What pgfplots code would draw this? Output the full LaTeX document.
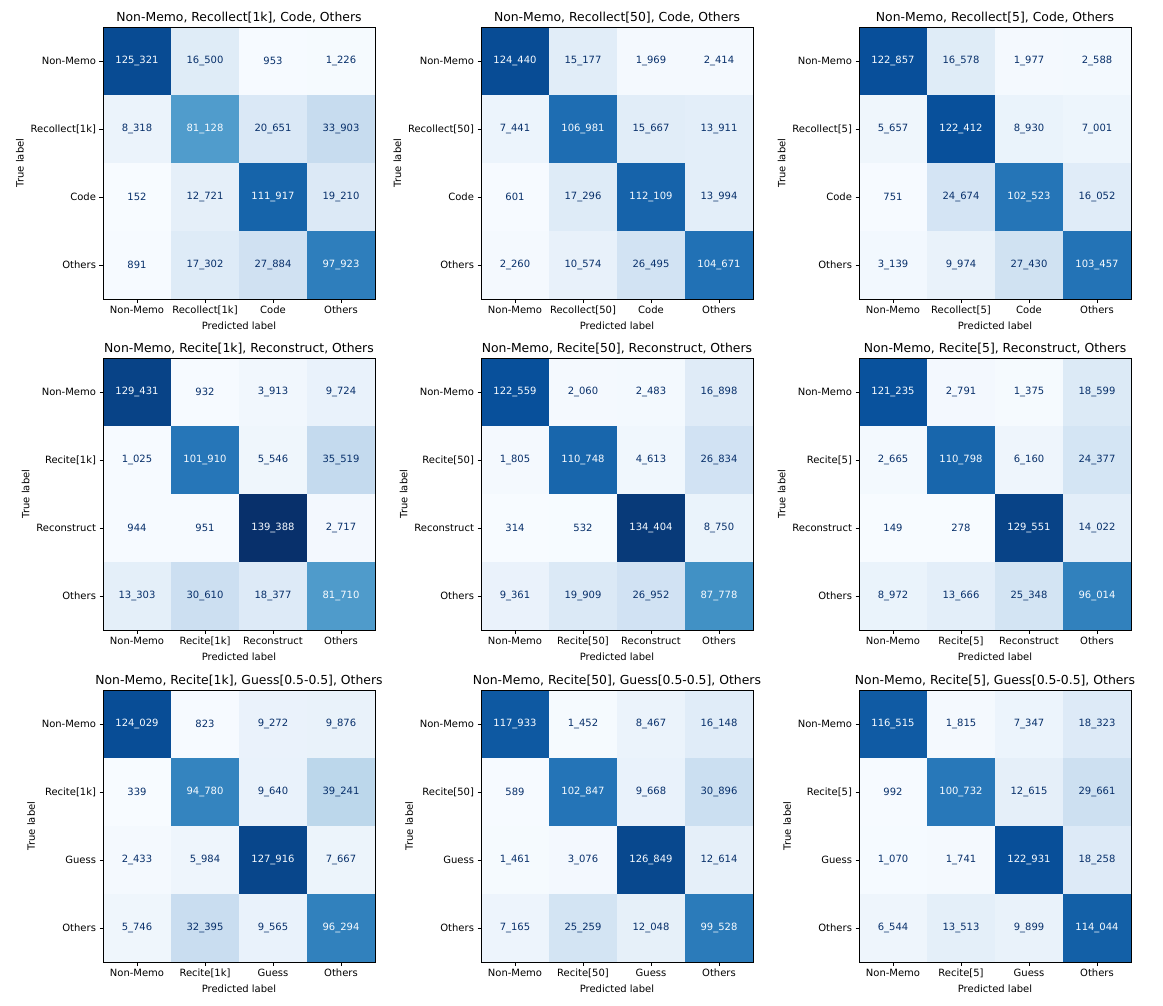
\documentclass[border=0pt]{standalone}
\usepackage{pgfplots}
\pgfplotsset{compat=1.18}
\usepackage{pgfplotstable}
\usepackage{fontspec}
\setmainfont{DejaVu Sans}
\definecolor{cmax}{HTML}{08306B}
\definecolor{cmin}{HTML}{F7FBFF}
\pgfplotsset{colormap={mplblues}{rgb255=(247,251,255) rgb255=(222,235,247) rgb255=(198,219,239) rgb255=(158,202,225) rgb255=(107,174,214) rgb255=(66,146,198) rgb255=(33,113,181) rgb255=(8,81,156) rgb255=(8,48,107)}}

\pgfplotstableread{
x y v t
0 0 125321 1
1 0 16500 0
2 0 953 0
3 0 1226 0
0 1 8318 0
1 1 81128 1
2 1 20651 0
3 1 33903 0
0 2 152 0
1 2 12721 0
2 2 111917 1
3 2 19210 0
0 3 891 0
1 3 17302 0
2 3 27884 0
3 3 97923 1
}\tA
\pgfplotstableread{
x y v t
0 0 124440 1
1 0 15177 0
2 0 1969 0
3 0 2414 0
0 1 7441 0
1 1 106981 1
2 1 15667 0
3 1 13911 0
0 2 601 0
1 2 17296 0
2 2 112109 1
3 2 13994 0
0 3 2260 0
1 3 10574 0
2 3 26495 0
3 3 104671 1
}\tB
\pgfplotstableread{
x y v t
0 0 122857 1
1 0 16578 0
2 0 1977 0
3 0 2588 0
0 1 5657 0
1 1 122412 1
2 1 8930 0
3 1 7001 0
0 2 751 0
1 2 24674 0
2 2 102523 1
3 2 16052 0
0 3 3139 0
1 3 9974 0
2 3 27430 0
3 3 103457 1
}\tC
\pgfplotstableread{
x y v t
0 0 129431 1
1 0 932 0
2 0 3913 0
3 0 9724 0
0 1 1025 0
1 1 101910 1
2 1 5546 0
3 1 35519 0
0 2 944 0
1 2 951 0
2 2 139388 1
3 2 2717 0
0 3 13303 0
1 3 30610 0
2 3 18377 0
3 3 81710 1
}\tD
\pgfplotstableread{
x y v t
0 0 122559 1
1 0 2060 0
2 0 2483 0
3 0 16898 0
0 1 1805 0
1 1 110748 1
2 1 4613 0
3 1 26834 0
0 2 314 0
1 2 532 0
2 2 134404 1
3 2 8750 0
0 3 9361 0
1 3 19909 0
2 3 26952 0
3 3 87778 1
}\tE
\pgfplotstableread{
x y v t
0 0 121235 1
1 0 2791 0
2 0 1375 0
3 0 18599 0
0 1 2665 0
1 1 110798 1
2 1 6160 0
3 1 24377 0
0 2 149 0
1 2 278 0
2 2 129551 1
3 2 14022 0
0 3 8972 0
1 3 13666 0
2 3 25348 0
3 3 96014 1
}\tF
\pgfplotstableread{
x y v t
0 0 124029 1
1 0 823 0
2 0 9272 0
3 0 9876 0
0 1 339 0
1 1 94780 1
2 1 9640 0
3 1 39241 0
0 2 2433 0
1 2 5984 0
2 2 127916 1
3 2 7667 0
0 3 5746 0
1 3 32395 0
2 3 9565 0
3 3 96294 1
}\tG
\pgfplotstableread{
x y v t
0 0 117933 1
1 0 1452 0
2 0 8467 0
3 0 16148 0
0 1 589 0
1 1 102847 1
2 1 9668 0
3 1 30896 0
0 2 1461 0
1 2 3076 0
2 2 126849 1
3 2 12614 0
0 3 7165 0
1 3 25259 0
2 3 12048 0
3 3 99528 1
}\tH
\pgfplotstableread{
x y v t
0 0 116515 1
1 0 1815 0
2 0 7347 0
3 0 18323 0
0 1 992 0
1 1 100732 1
2 1 12615 0
3 1 29661 0
0 2 1070 0
1 2 1741 0
2 2 122931 1
3 2 18258 0
0 3 6544 0
1 3 13513 0
2 3 9899 0
3 3 114044 1
}\tI

\pgfplotsset{
  cmlabels/.style={only marks, mark=*, mark size=0pt, mark options={draw=none,fill=none},
    point meta=explicit, unbounded coords=discard,
    nodes near coords={\pgfmathprintnumber[assume math mode=true,fixed,precision=0,1000 sep={\_}]{\pgfplotspointmeta}},
    every node near coord/.append style={font=\fontsize{10}{12}\selectfont, anchor=center, text=#1}},
}

\newcommand{\cmaxis}[6]{%
\begin{axis}[
  at={(#1pt,-#2pt)}, anchor=north west,
  scale only axis, width=272pt, height=272pt,
  xmin=-0.5, xmax=3.5, ymin=-0.5, ymax=3.5,
  y dir=reverse, enlargelimits=false,
  colormap name=mplblues, point meta min=0, point meta max=139388,
  xtick={0,1,2,3}, ytick={0,1,2,3},
  xticklabels={Non-Memo,{#4},{#5},Others},
  yticklabels={Non-Memo,{#4},{#5},Others},
  tick pos=left, tick align=outside,
  major tick length=3.5pt,
  every tick/.style={black, line width=0.8pt},
  axis line style={black, line width=0.8pt},
  axis on top,
  ticklabel style={font=\fontsize{10}{12}\selectfont},
  label style={font=\fontsize{10}{12}\selectfont},
  title={#3},
  title style={font=\fontsize{12.4}{14}\selectfont, at={(0.5,1)}, anchor=base, yshift=-0.5pt},
  xlabel={Predicted label}, ylabel={True label},
]
\addplot[matrix plot*, mesh/cols=4, point meta=explicit] table[x=x,y=y,meta=v]{#6};
\addplot[cmlabels=cmin, restrict expr to domain={\thisrow{t}}{0.5:1.5}] table[x=x,y=y,meta=v]{#6};
\addplot[cmlabels=cmax, restrict expr to domain={\thisrow{t}}{-0.5:0.5}] table[x=x,y=y,meta=v]{#6};
\end{axis}}

\begin{document}
\begin{tikzpicture}
\useasboundingbox (0,0) rectangle (1163pt,-1006pt);
\cmaxis{103}{27}{Non-Memo, Recollect[1k], Code, Others}{Recollect[1k]}{Code}{\tA}
\cmaxis{481}{27}{Non-Memo, Recollect[50], Code, Others}{Recollect[50]}{Code}{\tB}
\cmaxis{859}{27}{Non-Memo, Recollect[5], Code, Others}{Recollect[5]}{Code}{\tC}
\cmaxis{103}{358}{Non-Memo, Recite[1k], Reconstruct, Others}{Recite[1k]}{Reconstruct}{\tD}
\cmaxis{481}{358}{Non-Memo, Recite[50], Reconstruct, Others}{Recite[50]}{Reconstruct}{\tE}
\cmaxis{859}{358}{Non-Memo, Recite[5], Reconstruct, Others}{Recite[5]}{Reconstruct}{\tF}
\cmaxis{103}{690}{Non-Memo, Recite[1k], Guess[0.5-0.5], Others}{Recite[1k]}{Guess}{\tG}
\cmaxis{481}{690}{Non-Memo, Recite[50], Guess[0.5-0.5], Others}{Recite[50]}{Guess}{\tH}
\cmaxis{859}{690}{Non-Memo, Recite[5], Guess[0.5-0.5], Others}{Recite[5]}{Guess}{\tI}
\end{tikzpicture}
\end{document}
